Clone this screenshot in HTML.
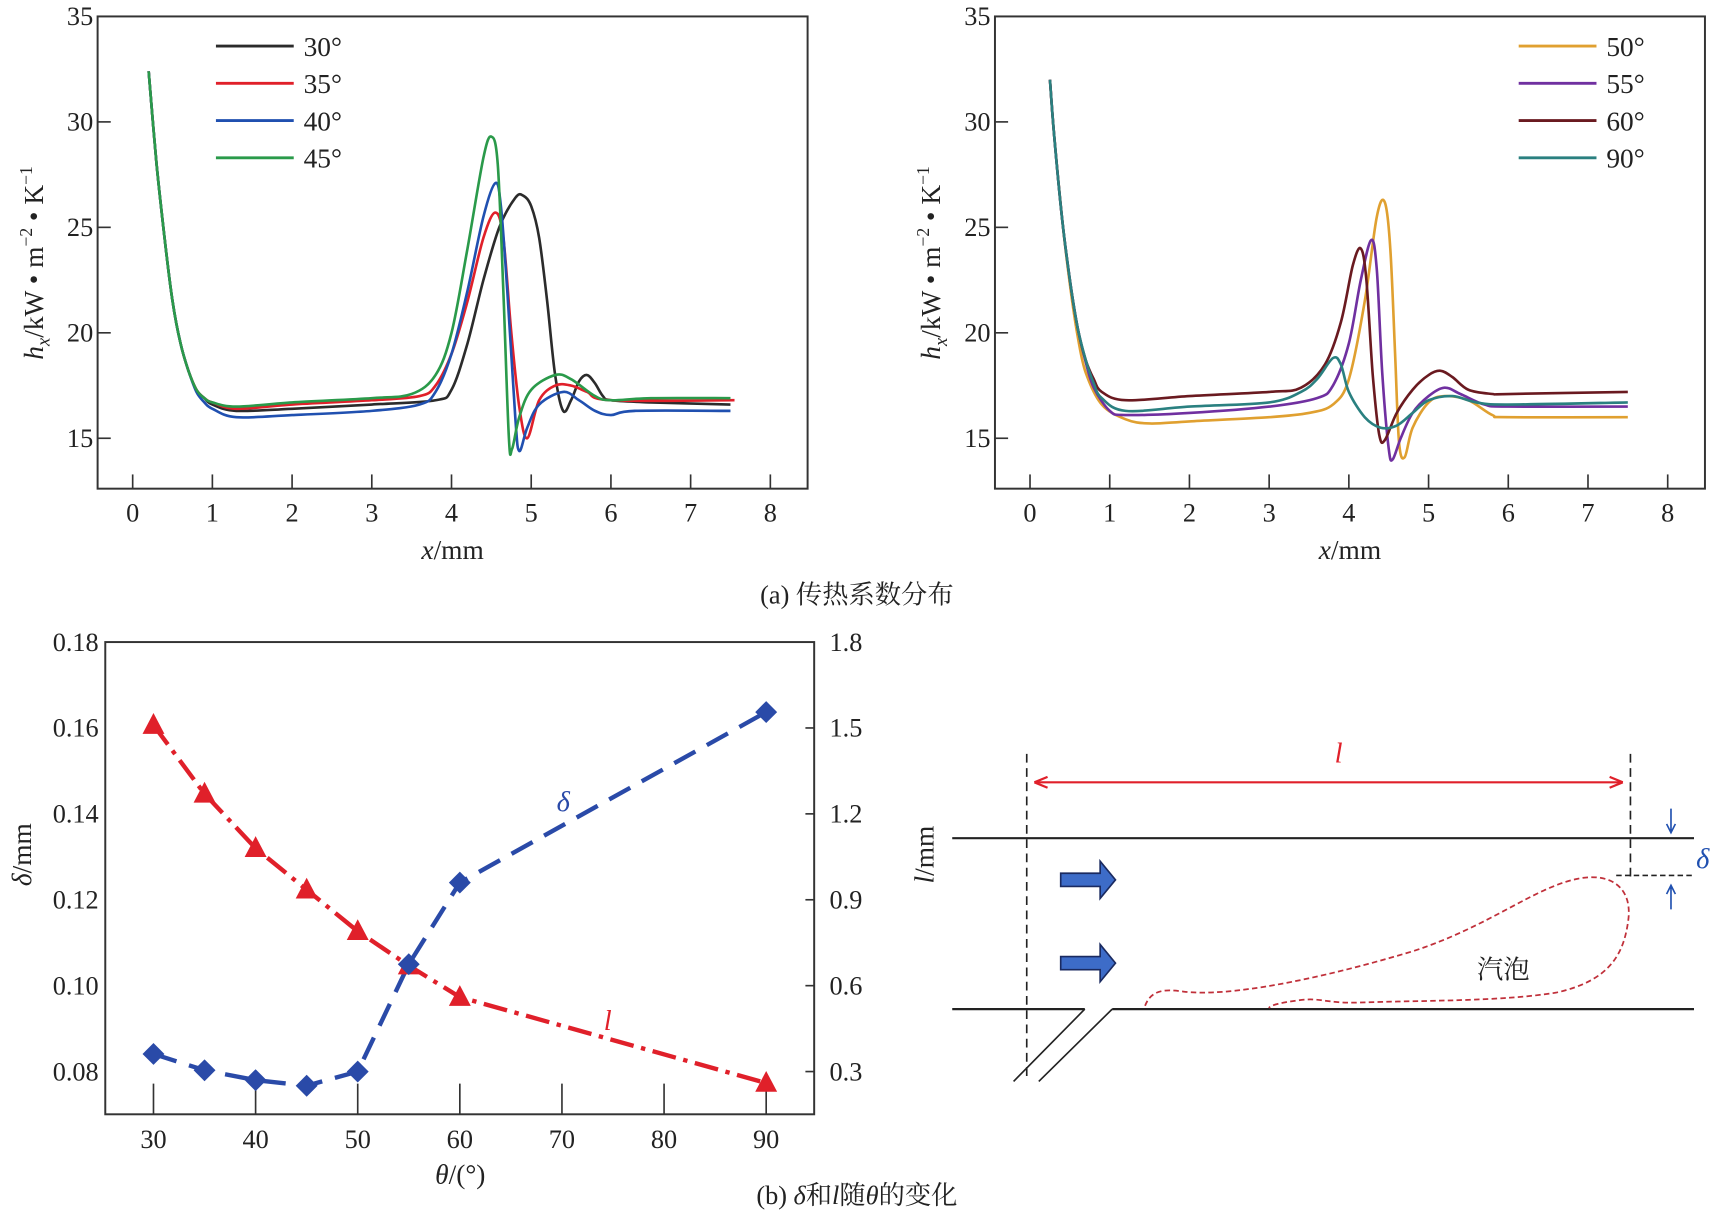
<!DOCTYPE html>
<html><head><meta charset="utf-8"><style>
html,body{margin:0;padding:0;background:#fff}
svg{display:block}
text{font-family:"Liberation Serif","Noto Serif CJK SC",serif;fill:#222}
</style></head><body>
<svg id="fig" width="1716" height="1214" viewBox="0 0 1566 1108" xmlns="http://www.w3.org/2000/svg">
<g id="g1"></g>
<g id="g2"></g>
<text x="782" y="551" font-size="24" text-anchor="middle">(a) 传热系数分布</text>
<g id="g3"></g>
<text x="782" y="1099" font-size="24" text-anchor="middle">(b) <tspan font-style="italic">δ</tspan>和<tspan font-style="italic">l</tspan>随<tspan font-style="italic">θ</tspan>的变化</text>
<g fill="none">
 <line x1="937" y1="688" x2="937" y2="985" stroke="#222" stroke-width="1.5" stroke-dasharray="8,5"/>
 <line x1="1488" y1="688" x2="1488" y2="800" stroke="#222" stroke-width="1.5" stroke-dasharray="8,5"/>
 <line x1="944" y1="714" x2="1481" y2="714" stroke="#e0202a" stroke-width="2"/>
 <path d="M944 714 l12 -5 M944 714 l12 5 M1481 714 l-12 -5 M1481 714 l-12 5" stroke="#e0202a" stroke-width="2"/>
 <text x="1218" y="696" font-size="26" font-style="italic" style="fill:#e0202a">l</text>
 <line x1="869" y1="765" x2="1546" y2="765" stroke="#222" stroke-width="2"/>
 <path d="M869 921 H990 M1015 921 H1546" stroke="#222" stroke-width="2"/>
 <path d="M990 921 L925 987 M1015 921 L948 987" stroke="#222" stroke-width="1.5"/>
 <path d="M968 797 h36 v-11 l14 17 l-14 17 v-11 h-36 z" fill="#3d6cc8" stroke="#1a2a60" stroke-width="1.5"/>
 <path d="M968 873 h36 v-11 l14 17 l-14 17 v-11 h-36 z" fill="#3d6cc8" stroke="#1a2a60" stroke-width="1.5"/>
 <line x1="1475" y1="799" x2="1546" y2="799" stroke="#222" stroke-width="1.5" stroke-dasharray="5,3"/>
 <path d="M1525 738 V760 M1521 752 l4 8 l4 -8 M1525 830 V808 M1521 816 l4 -8 l4 8" stroke="#2050b0" stroke-width="1.5"/>
 <text x="1548" y="792" font-size="26" font-style="italic" style="fill:#2050b0">δ</text>
 <path d="M1045 918 C1050 905 1060 902 1080 905 C1120 910 1200 895 1290 868 C1360 845 1400 810 1440 802 C1470 796 1490 810 1486 840 C1482 870 1470 895 1420 906 C1370 914 1300 913 1240 915 C1210 916 1205 910 1185 913 C1170 915 1160 917 1158 920" stroke="#c0303a" stroke-width="1.6" stroke-dasharray="5,3"/>
 <text x="1372" y="893" font-size="24" text-anchor="middle" font-family="Noto Sans CJK SC">汽泡</text>
</g>
</svg>
<script>
const NS="http://www.w3.org/2000/svg";
const xA30=[0.2,0.3,0.4,0.5,0.6,0.7,0.8,0.9,1.0,1.3,2,3,3.8,4.0,4.2,4.4,4.6,4.8,4.9,5.0,5.1,5.2,5.3,5.4,5.5,5.6,5.7,5.8,5.9,6.0,6.5,7.5];
const yA30=[32.4,28,24.5,21.5,19.5,18.2,17.3,16.9,16.6,16.3,16.4,16.6,16.8,17.3,19.5,22.5,25,26.4,26.5,26,24.5,21.5,18,16.3,16.8,17.7,18,17.6,17.0,16.8,16.7,16.6];
const xA35=[0.2,0.3,0.4,0.5,0.6,0.7,0.8,0.9,1.0,1.3,2,3,3.6,3.8,4.0,4.2,4.4,4.55,4.65,4.75,4.85,4.95,5.1,5.3,5.5,5.7,6.0,7.55];
const yA35=[32.4,28,24.5,21.5,19.5,18.2,17.3,16.9,16.7,16.4,16.6,16.8,17,17.5,19,21.5,24.5,25.7,24.5,20,16.5,15,16.8,17.5,17.5,17.2,16.8,16.8];
const xA40=[0.2,0.3,0.4,0.5,0.6,0.7,0.8,0.9,1.0,1.3,2,3,3.6,3.8,4.0,4.2,4.4,4.55,4.62,4.7,4.8,4.85,4.95,5.1,5.4,5.6,5.8,6.0,6.3,7.5];
const yA40=[32.4,28,24.5,21.5,19.5,18.2,17.2,16.7,16.4,16.0,16.1,16.3,16.6,17.2,19,22,25.5,27.1,26,22,16,14.4,15.5,16.6,17.2,16.8,16.3,16.1,16.3,16.3];
const xA45=[0.2,0.3,0.4,0.5,0.6,0.7,0.8,0.9,1.0,1.3,2,3,3.5,3.8,4.0,4.2,4.4,4.5,4.58,4.65,4.72,4.76,4.85,5.0,5.3,5.5,5.8,6.0,6.5,7.5];
const yA45=[32.4,28,24.5,21.5,19.5,18.2,17.3,16.9,16.7,16.5,16.7,16.9,17.1,18,20,24,28.3,29.3,28,22,15,14.5,16,17.3,18,17.8,17,16.8,16.9,16.9];
const xB50=[0.25,0.3,0.4,0.5,0.6,0.7,0.9,1.2,1.5,2,3,3.5,3.8,4.0,4.2,4.35,4.45,4.52,4.58,4.63,4.7,4.8,5.0,5.2,5.5,5.8,6.0,7.5];
const yB50=[32,29.5,25.5,22.3,19.8,18.1,16.6,15.9,15.7,15.8,16,16.2,16.6,17.8,21.5,25.5,26.2,24,19,14.8,14.1,15.5,16.7,17.0,16.8,16.1,16.0,16.0];
const xB55=[0.25,0.3,0.4,0.5,0.6,0.7,0.8,1.0,1.2,2,3,3.6,3.8,4.0,4.15,4.28,4.35,4.42,4.5,4.55,4.65,4.8,5.0,5.2,5.4,5.7,6.0,7.5];
const yB55=[32,29.5,25.5,22.5,20.2,18.6,17.4,16.3,16.1,16.2,16.5,16.9,17.5,19.5,22.5,24.4,23,18,14.5,14.0,15,16.2,17,17.4,17.1,16.6,16.5,16.5];
const xB60=[0.25,0.3,0.4,0.5,0.6,0.7,0.8,0.9,1.2,2,3,3.4,3.7,3.9,4.05,4.15,4.22,4.3,4.38,4.45,4.6,4.8,5.0,5.15,5.3,5.5,5.8,6.0,7.5];
const yB60=[32,29.5,25.5,22.5,20.2,18.7,17.8,17.2,16.8,17,17.2,17.4,18.5,20.5,23.2,24,22.5,18,15.2,14.9,16.2,17.3,18,18.2,17.9,17.3,17.1,17.1,17.2];
const xB90=[0.25,0.3,0.4,0.5,0.6,0.7,0.8,0.9,1.2,2,3,3.4,3.6,3.8,3.9,4.0,4.2,4.4,4.6,4.8,5.0,5.3,5.6,6.0,7.5];
const yB90=[32,29.5,25.5,22.5,20.2,18.7,17.6,16.9,16.3,16.5,16.7,17.2,17.8,18.8,18.5,17.2,16.0,15.5,15.6,16.2,16.8,17.0,16.7,16.6,16.7];
const xTicksA=[0,1,2,3,4,5,6,7,8];
const yTicksA=[15,20,25,30,35];
const theta=[30,35,40,45,50,55,60,90];
const deltaVals=[0.0841,0.0803,0.078,0.0767,0.080,0.105,0.124,0.1637];
const lVals=[1.51,1.27,1.08,0.935,0.79,0.67,0.56,0.26];
const xTicksB=[30,40,50,60,70,80,90];
const yTicksBL=[0.08,0.10,0.12,0.14,0.16,0.18];
const yTicksBR=[0.3,0.6,0.9,1.2,1.5,1.8];

function el(tag,attrs,parent,txt){const e=document.createElementNS(NS,tag);for(const k in attrs)e.setAttribute(k,attrs[k]);if(txt!==undefined)e.textContent=txt;parent.appendChild(e);return e;}
function smooth(pts){let d="M"+pts[0][0].toFixed(1)+" "+pts[0][1].toFixed(1);for(let i=0;i<pts.length-1;i++){const p0=pts[i-1]||pts[i],p1=pts[i],p2=pts[i+1],p3=pts[i+2]||p2;const c1=[p1[0]+(p2[0]-p0[0])/6,p1[1]+(p2[1]-p0[1])/6],c2=[p2[0]-(p3[0]-p1[0])/6,p2[1]-(p3[1]-p1[1])/6];d+=" C"+c1[0].toFixed(1)+" "+c1[1].toFixed(1)+" "+c2[0].toFixed(1)+" "+c2[1].toFixed(1)+" "+p2[0].toFixed(1)+" "+p2[1].toFixed(1);}return d;}

function chartA(g,left,x0,series,legendX){
  const L=left,R=left+648,T=15,B=446;
  const sx=v=>x0+v*72.75, sy=v=>15+(35-v)*19.25;
  const f=el("rect",{x:L,y:T,width:R-L,height:B-T,fill:"none",stroke:"#333","stroke-width":1.8},g);
  
  
  xTicksA.forEach(t=>{el("line",{x1:sx(t),x2:sx(t),y1:B,y2:B-13,stroke:"#333","stroke-width":1.5},g);
    const tx=el("text",{x:sx(t),y:476,"font-size":24,"text-anchor":"middle"},g,String(t));
    
    });
  yTicksA.forEach(t=>{if(t<35)el("line",{x1:L,x2:L+12,y1:sy(t),y2:sy(t),stroke:"#333","stroke-width":1.5},g);
    const tx=el("text",{x:L-4,y:sy(t)+8,"font-size":24,"text-anchor":"end"},g,String(t));
    
    });
  const xt=el("text",{x:(L+R)/2,y:510,"font-size":25,"text-anchor":"middle"},g);
  xt.innerHTML='<tspan font-style="italic">x</tspan>/mm';
  
  
  const yt=el("text",{x:0,y:0,"font-size":25,"text-anchor":"middle",transform:`translate(${L-50},240) rotate(-90)`},g);
  yt.innerHTML='<tspan font-style="italic">h</tspan><tspan font-style="italic" font-size="17" dy="6">x</tspan><tspan dy="-6">/kW • m</tspan><tspan font-size="16" dy="-10">−2</tspan><tspan dy="10"> • K</tspan><tspan font-size="16" dy="-10">−1</tspan>';
  
  
  series.forEach((s,i)=>{
    const p=el("path",{d:smooth(s.x.map((v,j)=>[sx(v),sy(s.y[j])])),fill:"none",stroke:s.c,"stroke-width":2.4},g);
    
    
  });
  series.forEach((s,i)=>{
    const y=42+i*34;
    const ln=el("line",{x1:legendX,x2:legendX+71,y1:y,y2:y,stroke:s.c,"stroke-width":2.6},g);
    
    
    const tx=el("text",{x:legendX+80,y:y+9,"font-size":25},g,s.n+"°");
    
    
  });
}
chartA(document.getElementById("g1"),89,121,[
 {n:"30",x:xA30,y:yA30,c:"#2b2b2b"},{n:"35",x:xA35,y:yA35,c:"#e0202a"},
 {n:"40",x:xA40,y:yA40,c:"#2050b0"},{n:"45",x:xA45,y:yA45,c:"#2a9a4a"}],197);
chartA(document.getElementById("g2"),908,940,[
 {n:"50",x:xB50,y:yB50,c:"#e0a030"},{n:"55",x:xB55,y:yB55,c:"#7030a0"},
 {n:"60",x:xB60,y:yB60,c:"#6a1a20"},{n:"90",x:xB90,y:yB90,c:"#2a8080"}],1386);

(function(){
  const g=document.getElementById("g3");
  const L=96,R=743,T=586,B=1017;
  const sx=v=>140+(v-30)*9.32, syL=v=>978-(v-0.08)/0.02*78.4, syR=v=>978-(v-0.3)/0.3*78.4;
  const f=el("rect",{x:L,y:T,width:R-L,height:B-T,fill:"none",stroke:"#333","stroke-width":1.8},g);
  
  
  xTicksB.forEach(t=>{el("line",{x1:sx(t),x2:sx(t),y1:B,y2:B-28,stroke:"#333","stroke-width":1.5},g);
    const tx=el("text",{x:sx(t),y:1048,"font-size":24,"text-anchor":"middle"},g,String(t));
    
    });
  yTicksBL.forEach(t=>{const tx=el("text",{x:L-6,y:syL(t)+8,"font-size":24,"text-anchor":"end"},g,t.toFixed(2));
    
    });
  yTicksBR.forEach(t=>{if(t<1.8)el("line",{x1:R,x2:R-8,y1:syR(t),y2:syR(t),stroke:"#333","stroke-width":1.5},g);
    const tx=el("text",{x:R+14,y:syR(t)+8,"font-size":24},g,t.toFixed(1));
    
    });
  const xt=el("text",{x:420,y:1080,"font-size":25,"text-anchor":"middle"},g);
  xt.innerHTML='<tspan font-style="italic">θ</tspan>/(°)';
  
  
  const yl=el("text",{x:0,y:0,"font-size":25,"text-anchor":"middle",transform:"translate(28,780) rotate(-90)"},g);
  yl.innerHTML='<tspan font-style="italic">δ</tspan>/mm';
  
  
  const yr=el("text",{x:0,y:0,"font-size":25,"text-anchor":"middle",transform:"translate(852,780) rotate(-90)"},g);
  yr.innerHTML='<tspan font-style="italic">l</tspan>/mm';
  
  
  const lp=el("path",{d:"M"+theta.map((t,i)=>sx(t)+" "+syR(lVals[i])).join(" L"),fill:"none",stroke:"#e0202a","stroke-width":4,"stroke-dasharray":"22,7,4,7"},g);
  
  
  const dp=el("path",{d:"M"+theta.map((t,i)=>sx(t)+" "+syL(deltaVals[i])).join(" L"),fill:"none",stroke:"#2a4aa8","stroke-width":4,"stroke-dasharray":"22,12"},g);
  
  
  theta.forEach((t,i)=>{
    const x=sx(t),y=syR(lVals[i]);
    const m=el("path",{d:`M${x} ${y-11} L${x+10} ${y+8} L${x-10} ${y+8} Z`,fill:"#e0202a"},g);
    
    
    const y2=syL(deltaVals[i]);
    const d=el("path",{d:`M${x} ${y2-10} L${x+10} ${y2} L${x} ${y2+10} L${x-10} ${y2} Z`,fill:"#2a4aa8"},g);
    
    
  });
  const t1=el("text",{x:508,y:740,"font-size":26,"font-style":"italic",style:"fill:#2a4aa8"},g,"δ");
  
  
  const t2=el("text",{x:551,y:940,"font-size":26,"font-style":"italic",style:"fill:#e0202a"},g,"l");
  
  
})();
</script>
</body></html>
